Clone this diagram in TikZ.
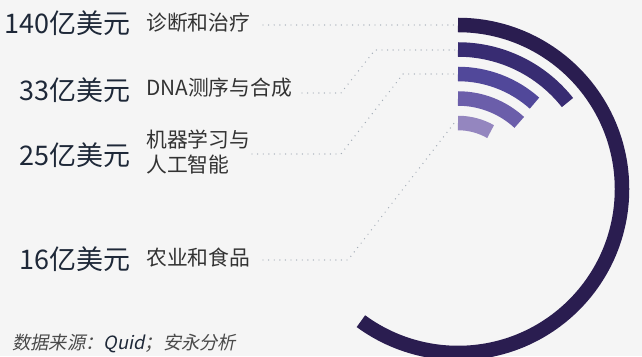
\documentclass[tikz,border=0pt]{standalone}
\usepackage{fontspec}
\setmainfont{Noto Sans CJK SC}
\newfontfamily\cjkit[FakeSlant=0.2]{Noto Sans CJK SC}
\definecolor{bg}{HTML}{F5F5F5}
\definecolor{arcA}{HTML}{2A1D50}
\definecolor{arcB}{HTML}{382C72}
\definecolor{arcC}{HTML}{51489A}
\definecolor{arcD}{HTML}{6B5EAA}
\definecolor{arcE}{HTML}{9486BF}
\definecolor{dotc}{HTML}{A5AEB8}
\definecolor{valc}{HTML}{1E2838}
\definecolor{catc}{HTML}{333333}
\definecolor{srcc}{HTML}{4A4A4A}
\tikzset{
  leader/.style={draw=dotc, line width=1.4pt, line cap=round, dash pattern=on 0pt off 5.6pt},
  ring/.style={line width=14.5pt, line cap=butt},
  valtext/.style={anchor=east, inner sep=0pt, text=valc, font=\fontsize{27}{30}\selectfont},
  cattext/.style={anchor=west, inner sep=0pt, text=catc, font=\fontsize{20.8}{25}\selectfont, align=left},
}
\begin{document}
\begin{tikzpicture}[x=1pt,y=1pt]
\useasboundingbox (0,0) rectangle (642,356);
\fill[bg] (0,0) rectangle (642,356);
\clip (0,0) rectangle (642,356);
\coordinate (c) at (458,167);
% arcs
\draw[ring, arcA] (c) ++(90:164) arc[start angle=90, end angle=-126.3, radius=164];
\draw[ring, arcB] (c) ++(90:139.5) arc[start angle=90, end angle=38.3, radius=139.5];
\draw[ring, arcC] (c) ++(90:115) arc[start angle=90, end angle=48.3, radius=115];
\draw[ring, arcD] (c) ++(90:90.5) arc[start angle=90, end angle=47.4, radius=90.5];
\draw[ring, arcE] (c) ++(90:66) arc[start angle=90, end angle=60.4, radius=66];
% labels
\node[valtext] (v1) at (131,332.5) {140亿美元};
\node[valtext] (v2) at (131,266) {33亿美元};
\node[valtext] (v3) at (131,201) {25亿美元};
\node[valtext] (v4) at (131,97) {16亿美元};
\node[cattext] (k1) at (146,333.5) {诊断和治疗};
\node[cattext] (k2) at (146,268) {DNA测序与合成};
\node[cattext] (k3) at (146,203.5) {机器学习与\\人工智能};
\node[cattext] (k4) at (146,98.5) {农业和食品};
\node[anchor=west, inner sep=0pt, text=srcc, font=\cjkit\fontsize{18.3}{20}\selectfont] (src) at (12,13) {数据来源：{\color{valc}Quid}；安永分析};
% leader endpoints
\coordinate (s1) at (263,331);
\coordinate (e1) at (456,331);
\coordinate (s2) at (302,263);
\coordinate (b2a) at (341,263);
\coordinate (b2b) at (375,306);
\coordinate (e2) at (455,306);
\coordinate (s3) at (252,202);
\coordinate (b3a) at (341,202);
\coordinate (b3b) at (403,282);
\coordinate (e3) at (455,282);
\coordinate (s4) at (263,96);
\coordinate (b4a) at (348,96);
\coordinate (e4) at (455,234);
\draw[leader] (s1) -- (e1);
\draw[leader] (s2) -- (b2a) -- (b2b) -- (e2);
\draw[leader] (s3) -- (b3a) -- (b3b) -- (e3);
\draw[leader] (s4) -- (b4a) -- (e4);
\end{tikzpicture}
\end{document}
